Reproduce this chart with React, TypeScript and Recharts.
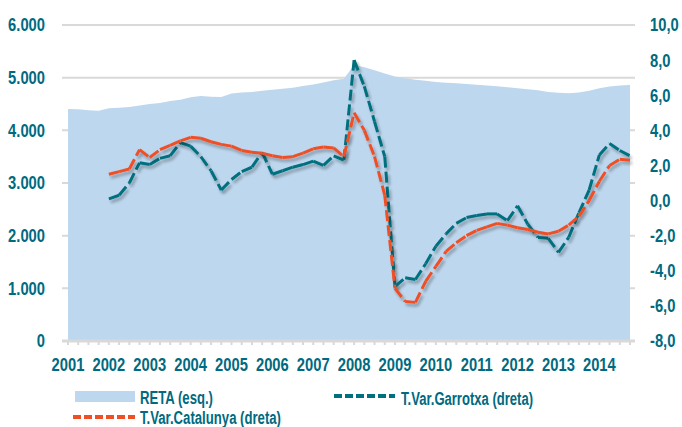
import React from "react";
import { Area, CartesianGrid, ComposedChart, Line, XAxis, YAxis } from "recharts";

const YEARS = [2001, 2002, 2003, 2004, 2005, 2006, 2007, 2008, 2009, 2010, 2011, 2012, 2013, 2014];

const RETA = [
  4405, 4400, 4380, 4370, 4420, 4430, 4445, 4470, 4500, 4520, 4555, 4580,
  4630, 4650, 4640, 4635, 4700, 4720, 4730, 4750, 4770, 4790, 4810, 4840,
  4870, 4910, 4950, 4980, 5240, 5200, 5140, 5080, 5020, 4990, 4960, 4940,
  4920, 4905, 4895, 4880, 4865, 4850, 4835, 4820, 4800, 4780, 4760, 4730,
  4715, 4705, 4720, 4750, 4800, 4830, 4850, 4860,
];

const CATALUNYA = [
  null, null, null, null, 1.5, 1.65, 1.8, 2.9, 2.45, 2.9, 3.15, 3.4,
  3.6, 3.55, 3.35, 3.2, 3.1, 2.85, 2.75, 2.7, 2.55, 2.45, 2.5, 2.7,
  2.95, 3.05, 3.0, 2.5, 5.0, 4.0, 2.5, 0.3, -5.0, -5.75, -5.8, -4.6,
  -3.75, -2.9, -2.4, -2.0, -1.7, -1.5, -1.3, -1.4, -1.55, -1.65, -1.8, -1.9,
  -1.75, -1.4, -0.9, 0.0, 1.1, 2.0, 2.35, 2.3,
];

const GARROTXA = [
  null, null, null, null, 0.1, 0.3, 1.0, 2.15, 2.05, 2.4, 2.55, 3.3,
  3.1, 2.5, 1.7, 0.6, 1.2, 1.65, 1.9, 2.75, 1.5, 1.7, 1.9, 2.05,
  2.25, 2.0, 2.55, 2.3, 8.0, 6.5, 4.5, 2.5, -4.9, -4.4, -4.5, -3.6,
  -2.6, -1.9, -1.3, -0.97, -0.85, -0.76, -0.76, -1.14, -0.3, -1.35, -2.1, -2.15,
  -2.95, -2.1, -0.7, 0.6, 2.6, 3.25, 2.85, 2.55,
];

const LEFT_TICKS = [0, 1000, 2000, 3000, 4000, 5000, 6000];
const RIGHT_TICKS = [-8, -6, -4, -2, 0, 2, 4, 6, 8, 10];

const PERIODS = YEARS.flatMap((y) => [y, y + 0.25, y + 0.5, y + 0.75]);

const data = PERIODS.map((t, i) => ({
  t,
  reta: RETA[i],
  cat: CATALUNYA[i],
  gar: GARROTXA[i],
}));

const TEXT = "#006a80";
const TEAL = "#00707f";
const ORANGE = "#f04f26";
const BLUE = "#bdd7ee";
const FONT = "'Liberation Sans', Arial, sans-serif";
const NARROW = 0.82;

// draws every segment on its own so the dash pattern restarts at each point
function segments(color: string) {
  return (props: any) => {
    const { index, points, cx, cy } = props;
    const next = points ? points[index + 1] : null;
    if (cy == null || !next || next.y == null) return <g key={`s-${index}`} />;
    return (
      <line
        key={`s-${index}`}
        x1={cx}
        y1={cy}
        x2={next.x}
        y2={next.y}
        stroke={color}
        strokeWidth={3}
        strokeDasharray="11 4"
        filter="url(#sh)"
      />
    );
  };
}

function makeTick(anchor: "start" | "middle" | "end", dy: string, fmt: (v: number) => string) {
  return (props: any) => {
    const { x, y, payload } = props;
    const label = fmt(payload.value);
    if (!label) return <g />;
    return (
      <text
        transform={`translate(${x},${y}) scale(${NARROW},1)`}
        textAnchor={anchor}
        dy={dy}
        fill={TEXT}
        fontSize={18}
        fontWeight="bold"
        fontFamily={FONT}
      >
        {label}
      </text>
    );
  };
}

const xTick = makeTick("middle", "0.71em", (v) => (Number.isInteger(v) ? String(v) : ""));
const leftTick = makeTick("end", "0.355em", (v) => (v === 0 ? "0" : `${v / 1000}.000`));
const rightTick = makeTick("start", "0.355em", (v) => v.toFixed(1).replace(".", ","));

export default function App() {
  return (
    <div style={{ position: "absolute", left: 0, top: 0, width: 682, height: 427, background: "#fff" }}>
      <ComposedChart width={682} height={427} data={data} margin={{ top: 25, right: 0, bottom: 56, left: 0 }}>
        <defs>
          <filter id="sh" filterUnits="userSpaceOnUse" x="0" y="0" width="682" height="427">
            <feGaussianBlur in="SourceAlpha" stdDeviation="1.8" />
            <feOffset dx="2" dy="3" />
            <feComponentTransfer>
              <feFuncA type="linear" slope="0.3" />
            </feComponentTransfer>
            <feMerge>
              <feMergeNode />
              <feMergeNode in="SourceGraphic" />
            </feMerge>
          </filter>
        </defs>
        <CartesianGrid yAxisId="l" vertical={false} stroke="#d9d9d9" strokeWidth={2} />
        <XAxis
          dataKey="t"
          type="number"
          domain={[2001, 2014.75]}
          ticks={PERIODS}
          interval={0}
          padding={{ left: 6, right: 5 }}
          tick={xTick}
          tickSize={4}
          tickMargin={13}
          height={30}
          axisLine={{ stroke: "#d9d9d9", strokeWidth: 3 }}
          tickLine={{ stroke: "#d9d9d9", strokeWidth: 2 }}
        />
        <YAxis
          yAxisId="l"
          domain={[0, 6000]}
          ticks={LEFT_TICKS}
          width={62}
          axisLine={false}
          tickLine={false}
          tickSize={0}
          tickMargin={17}
          tick={leftTick}
        />
        <YAxis
          yAxisId="r"
          orientation="right"
          domain={[-8, 10]}
          ticks={RIGHT_TICKS}
          width={47}
          axisLine={false}
          tickLine={false}
          tickSize={0}
          tickMargin={15}
          tick={rightTick}
        />
        <Area yAxisId="l" dataKey="reta" type="linear" fill={BLUE} fillOpacity={1} stroke="none" isAnimationActive={false} />
        <Line yAxisId="r" dataKey="gar" type="linear" stroke="none" dot={segments(TEAL)} activeDot={false} isAnimationActive={false} />
        <Line yAxisId="r" dataKey="cat" type="linear" stroke="none" dot={segments(ORANGE)} activeDot={false} isAnimationActive={false} />
      </ComposedChart>
      <svg width={682} height={427} style={{ position: "absolute", left: 0, top: 0, pointerEvents: "none" }}>
        <g fontFamily={FONT} fontSize={18} fontWeight="bold" fill={TEXT}>
          <rect x={75} y={391} width={60} height={11} fill={BLUE} />
          <text x={140} y={404} textLength={73} lengthAdjust="spacingAndGlyphs">RETA (esq.)</text>
          <line x1={334} x2={395} y1={396} y2={396} stroke={TEAL} strokeWidth={4} strokeDasharray="8 3" />
          <text x={401} y={405} textLength={132} lengthAdjust="spacingAndGlyphs">T.Var.Garrotxa (dreta)</text>
          <line x1={73} x2={135} y1={417} y2={417} stroke={ORANGE} strokeWidth={4} strokeDasharray="8 3" />
          <text x={140} y={424} textLength={141} lengthAdjust="spacingAndGlyphs">T.Var.Catalunya (dreta)</text>
        </g>
      </svg>
    </div>
  );
}
